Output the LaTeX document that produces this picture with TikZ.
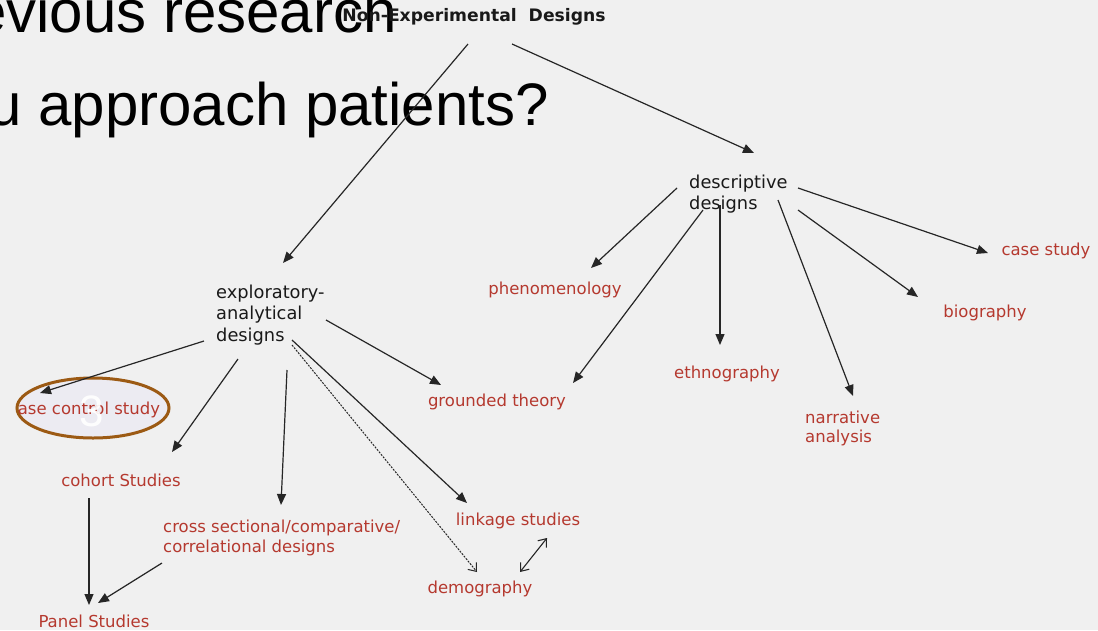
\documentclass[tikz,border=0pt]{standalone}
\usepackage{fontspec}
\setmainfont{DejaVu Sans}
\newfontfamily\slidefont{Liberation Sans}
\usetikzlibrary{arrows.meta}
\definecolor{slidebg}{HTML}{F0F0F0}
\definecolor{termred}{HTML}{B5392F}
\definecolor{ringbrown}{HTML}{9C5A14}
\definecolor{ringfill}{HTML}{ECEBF2}
\begin{document}
\begin{tikzpicture}[x=1pt,y=-1pt,
  head/.style={font=\fontsize{17.8}{21.5}\selectfont, text=black!90, inner sep=0pt, align=left},
  term/.style={font=\fontsize{16.5}{20}\selectfont, text=termred, inner sep=0pt, align=left},
  arr/.style={-{Triangle[length=11pt,width=9pt]}, line width=1.2pt, draw=black!85},
  dotarr/.style={-{Straight Barb[length=7pt,width=11pt]}, line width=1pt, draw=black!85, dash pattern=on 2pt off 1.2pt},
  biarr/.style={{Straight Barb[length=7pt,width=11pt]}-{Straight Barb[length=7pt,width=11pt]}, line width=1.1pt, draw=black!85},
  slide/.style={font=\slidefont\fontsize{60}{60}\selectfont, text=black, inner sep=0pt}]

\useasboundingbox (0,0) rectangle (1098,630);
\clip (0,0) rectangle (1098,630);
\fill[slidebg] (0,0) rectangle (1098,630);

% slide heading behind the chart
\node[slide, anchor=base east] (line1) at (397,32) {evious research};
\node[slide, anchor=base east] (line2) at (549,125) {u approach patients?};

% highlight ring
\draw[ringbrown, line width=3pt, fill=ringfill] (93,408) ellipse [x radius=76, y radius=30];

% nodes
\node[inner sep=0pt, font=\bfseries\fontsize{17.2}{20}\selectfont, text=black!90] (nonexp) at (474,17) {Non-Experimental\ \ Designs};
\node[head, anchor=west] (desc) at (689,194) {descriptive\\designs};
\node[head, anchor=west] (expl) at (216,315) {exploratory-\\analytical\\designs};

\node[term] (cc) at (89,410) {ase control study};
\node[term] (cohort) at (121,480) {cohort Studies};
\node[term] (panel) at (94,621) {Panel Studies};
\node[term, anchor=west] (cross) at (163,538) {cross sectional/comparative/\\correlational designs};
\node[term] (link) at (518,521) {linkage studies};
\node[term] (demo) at (480,589) {demography};
\node[term] (grounded) at (497,402) {grounded theory};
\node[term] (phen) at (555,290) {phenomenology};
\node[term] (ethno) at (727,374) {ethnography};
\node[term, anchor=west, font=\fontsize{16.5}{19}\selectfont] (narr) at (805,428) {narrative\\analysis};
\node[term] (bio) at (985,313) {biography};
\node[term] (case) at (1046,251) {case study};

\node[text=white, opacity=0.92, inner sep=0pt, font=\slidefont\fontsize{44}{44}\selectfont] (num) at (92,411) {3};

% top level
\draw[arr] ([shift={(-6,27)}]nonexp.center) -- ([shift={(67,-52)}]expl.west);
\draw[arr] ([shift={(38,27)}]nonexp.center) -- ([shift={(65,-41)}]desc.west);

% descriptive branch
\draw[arr] ([shift={(-12,-6)}]desc.west) -- ([shift={(36,-22)}]phen.center);
\draw[arr] ([shift={(14,16)}]desc.west) -- ([shift={(76,-19)}]grounded.center);
\draw[arr] ([shift={(31,11)}]desc.west) -- ([shift={(-7,-29)}]ethno.center);
\draw[arr] ([shift={(89,6)}]desc.west) -- ([shift={(48,-32)}]narr.west);
\draw[arr] ([shift={(109,16)}]desc.west) -- ([shift={(-67,-16)}]bio.center);
\draw[arr] ([shift={(109,-6)}]desc.west) -- ([shift={(-58,2)}]case.center);

% exploratory branch
\draw[arr] ([shift={(-12,26)}]expl.west) -- ([shift={(-49,-17)}]cc.center);
\draw[arr] ([shift={(22,44)}]expl.west) -- ([shift={(51,-28)}]cohort.center);
\draw[arr] ([shift={(71,55)}]expl.west) -- ([shift={(118,-33)}]cross.west);
\draw[arr] ([shift={(110,5)}]expl.west) -- ([shift={(-56,-17)}]grounded.center);
\draw[arr] ([shift={(76,25)}]expl.west) -- ([shift={(-51,-18)}]link.center);
\draw[dotarr] ([shift={(76,30)}]expl.west) -- ([shift={(-3,-17)}]demo.center);
\draw[biarr] ([shift={(29,17)}]link.center) -- ([shift={(40,-17)}]demo.center);

% panel studies
\draw[arr] ([shift={(-32,18)}]cohort.center) -- ([shift={(-5,-16)}]panel.center);
\draw[arr] ([shift={(-1,25)}]cross.west) -- ([shift={(4,-18)}]panel.center);
\end{tikzpicture}
\end{document}
